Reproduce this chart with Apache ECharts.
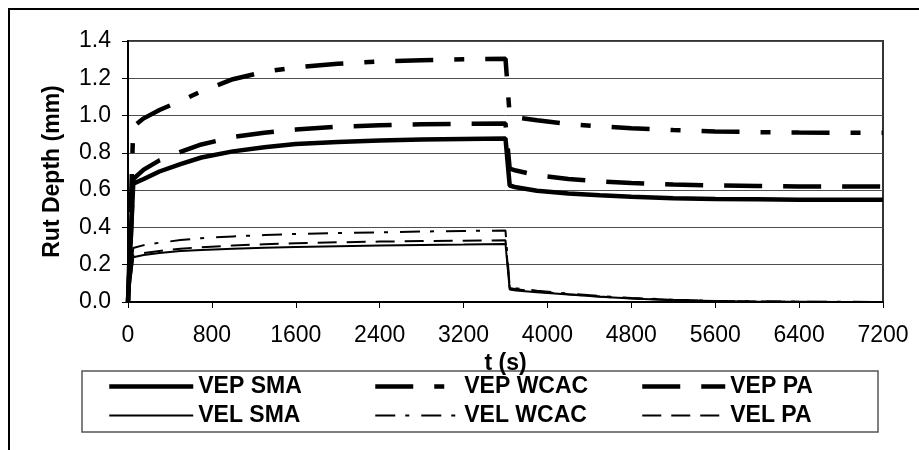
<!DOCTYPE html>
<html>
<head>
<meta charset="utf-8">
<script src="https://cdn.jsdelivr.net/npm/echarts@6/dist/echarts.min.js"></script>
<style>
  html, body { margin: 0; padding: 0; background: #fff; }
  #chart { width: 919px; height: 450px; }
</style>
</head>
<body>
<div id="chart"></div>
<script>
  // time (s)
  const times = [0, 50, 150, 300, 500, 700, 1000, 1300, 1600, 2000, 2400, 2800, 3200, 3600,
    3640, 3700, 3900, 4200, 4500, 4800, 5200, 5600, 6000, 6400, 6800, 7200]

  // rut depth (mm)
  const vepSma = [0, 0.635, 0.66, 0.70, 0.74, 0.775, 0.808, 0.83, 0.848, 0.858, 0.866, 0.871, 0.874, 0.877,
    0.625, 0.615, 0.597, 0.582, 0.572, 0.564, 0.557, 0.553, 0.551, 0.549, 0.548, 0.548]
  const vepWcac = [0, 0.94, 0.985, 1.03, 1.078, 1.13, 1.195, 1.235, 1.258, 1.278, 1.29, 1.297, 1.302, 1.305,
    1.0, 0.99, 0.975, 0.955, 0.942, 0.932, 0.922, 0.915, 0.911, 0.909, 0.908, 0.908]
  const vepPa = [0, 0.66, 0.71, 0.76, 0.805, 0.845, 0.885, 0.908, 0.925, 0.94, 0.948, 0.953, 0.956, 0.958,
    0.715, 0.705, 0.68, 0.66, 0.647, 0.638, 0.63, 0.625, 0.622, 0.62, 0.62, 0.62]
  const velSma = [0, 0.24, 0.252, 0.263, 0.273, 0.279, 0.286, 0.291, 0.295, 0.299, 0.303, 0.306, 0.308, 0.311,
    0.067, 0.062, 0.052, 0.04, 0.028, 0.019, 0.01, 0.005, 0.002, 0.001, 0, 0]
  const velWcac = [0, 0.29, 0.305, 0.318, 0.332, 0.342, 0.352, 0.359, 0.365, 0.37, 0.374, 0.378, 0.381, 0.383,
    0.08, 0.074, 0.06, 0.045, 0.032, 0.022, 0.012, 0.006, 0.003, 0.002, 0.001, 0]
  const velPa = [0, 0.25, 0.262, 0.274, 0.286, 0.294, 0.303, 0.31, 0.315, 0.32, 0.324, 0.327, 0.329, 0.331,
    0.075, 0.069, 0.056, 0.042, 0.029, 0.02, 0.011, 0.005, 0.003, 0.001, 0, 0]

  const font = "'Liberation Sans', Arial, sans-serif"

  const pairs = (vals) => times.map((t, i) => [t, vals[i]])

  const makeSeries = (name, vals, width, dash) => ({
    name,
    type: 'line',
    data: pairs(vals),
    symbol: 'none',
    silent: true,
    lineStyle: { color: '#000', width, type: dash },
  })

  const legendText = {
    color: '#000',
    fontFamily: font,
    fontWeight: 'bold',
    fontSize: 23,
    lineHeight: 23,
  }

  const makeLegend = (left, itemWidth, names) => ({
    orient: 'vertical',
    left,
    top: 375,
    padding: 0,
    itemGap: 6,
    itemWidth,
    itemHeight: 14,
    selectedMode: false,
    textStyle: legendText,
    itemStyle: { color: 'rgba(0,0,0,0)', borderWidth: 0 },
    data: [
      { name: names[0], lineStyle: { width: 4.5 } },
      { name: names[1], lineStyle: { width: 2 } },
    ],
  })

  const options = {
    animation: false,
    backgroundColor: '#fff',
    grid: {
      left: 128,
      right: 36,
      top: 41,
      bottom: 148,
      show: true,
      borderColor: '#333',
      borderWidth: 2,
    },
    legend: [
      makeLegend(107, 84, ['VEP SMA', 'VEL SMA']),
      makeLegend(373, 84, ['VEP WCAC', 'VEL WCAC']),
      makeLegend(640, 83, ['VEP PA', 'VEL PA']),
    ],
    xAxis: {
      type: 'value',
      min: 0,
      max: 7200,
      interval: 800,
      name: 't (s)',
      nameLocation: 'middle',
      nameGap: 44,
      nameTextStyle: { color: '#000', fontFamily: font, fontWeight: 'bold', fontSize: 23 },
      axisLine: { lineStyle: { color: '#000', width: 2 } },
      axisTick: { show: true, length: 6, lineStyle: { color: '#000', width: 1 } },
      axisLabel: {
        color: '#000',
        fontFamily: font,
        fontSize: 23,
        margin: 22,
        formatter: (v) => String(v),
      },
      splitLine: { show: false },
    },
    yAxis: {
      type: 'value',
      min: 0,
      max: 1.4,
      interval: 0.2,
      name: 'Rut Depth (mm)',
      nameLocation: 'middle',
      nameGap: 64,
      nameTextStyle: { color: '#000', fontFamily: font, fontWeight: 'bold', fontSize: 23 },
      axisLine: { show: true, lineStyle: { color: '#000', width: 2 } },
      axisTick: { show: true, length: 6, lineStyle: { color: '#000', width: 1 } },
      axisLabel: {
        color: '#000',
        fontFamily: font,
        fontSize: 23,
        margin: 17,
        formatter: (v) => v.toFixed(1),
      },
      splitLine: { show: true, lineStyle: { color: '#4d4d4d', width: 1 } },
    },
    graphic: [
      {
        type: 'polyline',
        silent: true,
        shape: { points: [[9, 450], [9, 9], [919, 9]] },
        style: { stroke: '#000', lineWidth: 2, fill: null },
      },
      {
        type: 'rect',
        silent: true,
        shape: { x: 82, y: 371, width: 796, height: 61 },
        style: { stroke: '#555', lineWidth: 1.5, fill: null },
      },
    ],
    series: [
      makeSeries('VEP SMA', vepSma, 4.5, 'solid'),
      makeSeries('VEP WCAC', vepWcac, 4.5, [38, 21, 10, 21]),
      makeSeries('VEP PA', vepPa, 4.5, [38, 21]),
      makeSeries('VEL SMA', velSma, 2, 'solid'),
      makeSeries('VEL WCAC', velWcac, 2, [20, 10, 4, 12]),
      makeSeries('VEL PA', velPa, 2, [19, 10]),
    ],
  }

  const chart = echarts.init(document.getElementById('chart'))
  chart.setOption(options)
  window.addEventListener('resize', function () {
    chart && chart.resize()
  })
</script>
</body>
</html>
